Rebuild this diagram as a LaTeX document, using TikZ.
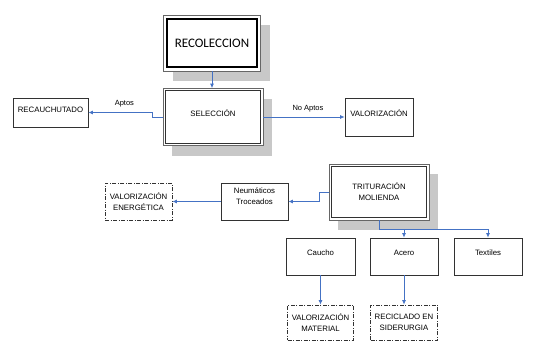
\documentclass[tikz,border=0pt]{standalone}
\usepackage{fontspec}
\setmainfont{Liberation Sans}
\newfontfamily\calibri{Carlito}
\usetikzlibrary{arrows.meta,positioning,shadows}

\definecolor{flecha}{RGB}{68,114,196}
\definecolor{sombra}{RGB}{200,200,200}
\definecolor{borde}{RGB}{50,50,50}

\begin{document}
\begin{tikzpicture}[
    x=1pt, y=-1pt,
    font=\fontsize{7.8}{10.8}\selectfont,
    % caja simple del proceso
    caja/.style={
        draw=borde,
        line width=0.7pt,
        fill=white,
        align=center,
        inner sep=2pt
    },
    % texto pegado arriba dentro de la caja
    arriba/.style={
        text height=5.8pt,
        text depth=#1
    },
    % caja con sombra (marco doble aparte)
    sombreada/.style={
        caja,
        draw=black!60,
        drop shadow={shadow xshift=9pt, shadow yshift=-10pt, fill=sombra, opacity=1}
    },
    % destinos finales, punto y raya
    destino/.style={
        caja,
        dash pattern=on 4pt off 1.5pt on 1pt off 1.5pt
    },
    % conectores
    flujo/.style={
        draw=flecha,
        line width=0.8pt,
        -{Latex[length=4.5pt,width=4pt]}
    },
    etiqueta/.style={
        font=\fontsize{7.5}{8}\selectfont,
        inner sep=1pt
    }
]
    \useasboundingbox (0,0) rectangle (533,345);

    % --- etapas principales ---
    \node[sombreada, minimum width=97, minimum height=56,
          font=\calibri\fontsize{13}{15}\selectfont] (recol) at (212,43) {RECOLECCION};
    \node[sombreada, arriba=7.3pt, minimum width=100, minimum height=57] (selec) at (213,117) {SELECCIÓN};
    \node[sombreada, minimum width=100, minimum height=56] (tritur) at (379,192) {TRITURACIÓN\\MOLIENDA};

    % marcos interiores
    \draw[black, line width=2pt] ([shift={(4,4)}]recol.north west) rectangle ([shift={(-4,-4)}]recol.south east);
    \draw[borde, line width=1pt] ([shift={(2.5,2.5)}]selec.north west) rectangle ([shift={(-2.5,-2.5)}]selec.south east);
    \draw[borde, line width=1pt] ([shift={(2.5,2.5)}]tritur.north west) rectangle ([shift={(-2.5,-2.5)}]tritur.south east);

    % --- salidas de la seleccion ---
    \node[caja, arriba=6pt, minimum width=75, minimum height=29] (recauch) at (50.5,112.5) {RECAUCHUTADO};
    \node[caja, arriba=7.5pt, minimum width=68, minimum height=38] (valor) at (379,117) {VALORIZACIÓN};

    % --- productos de la trituracion ---
    \node[caja, text depth=10pt, minimum width=67, minimum height=37] (neum) at (254.5,201.5) {Neumáticos\\Troceados};
    \node[caja, arriba=7.5pt, minimum width=69, minimum height=37] (caucho) at (320.5,256.5) {Caucho};
    \node[caja, arriba=7.5pt, minimum width=68, minimum height=37] (acero) at (404,256.5) {Acero};
    \node[caja, arriba=7.5pt, minimum width=68, minimum height=37] (textil) at (488,256.5) {Textiles};

    % --- destinos ---
    \node[destino, minimum width=67, minimum height=37] (energ) at (138.5,201.5) {VALORIZACIÓN\\ENERGÉTICA};
    \node[destino, minimum width=66, minimum height=35] (matl) at (320.5,322.5) {VALORIZACIÓN\\MATERIAL};
    \node[destino, minimum width=67, minimum height=35] (recic) at (404,322.5) {RECICLADO EN\\SIDERURGIA};

    % --- flechas ---
    \draw[flujo] (recol.south) -- (recol.south |- selec.north);
    \draw[flujo] (selec.west) -- ++(-10,0) |- node[etiqueta, above=4pt, pos=0.72] {Aptos} (recauch.east);
    \draw[flujo] (selec.east) -- node[etiqueta, above=4pt, xshift=4pt] {No Aptos} (valor.west);

    \draw[flujo] (tritur.west) -- ++(-9,0) |- (neum.east);
    \draw[flujo] (neum) -- (energ);

    \coordinate[below=9pt of tritur.south] (bus);
    \draw[flujo] (tritur.south) -- (bus) -| (textil.north);
    \draw[flujo] (bus -| acero.north) -- (acero.north);

    \draw[flujo] (caucho) -- (matl);
    \draw[flujo] (acero) -- (recic);

\end{tikzpicture}
\end{document}
